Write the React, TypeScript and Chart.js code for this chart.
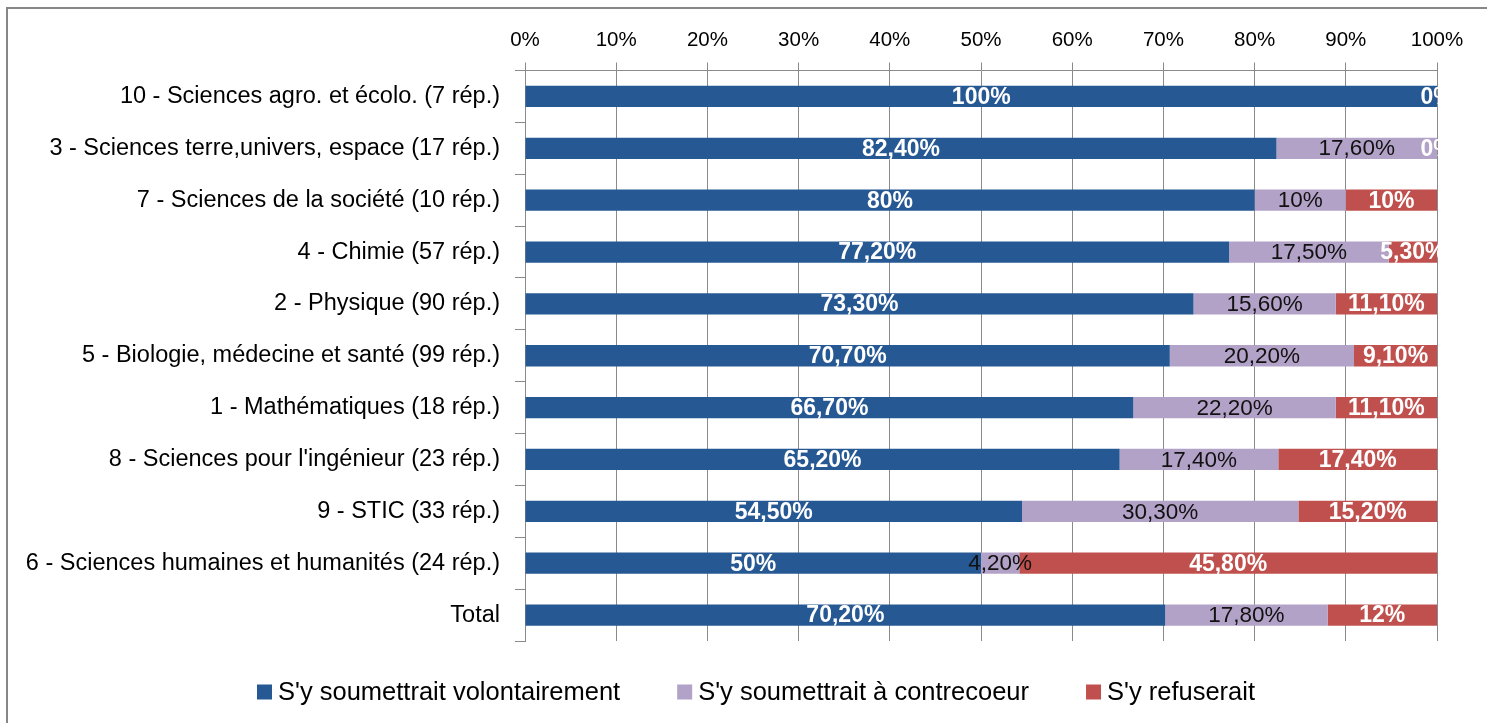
import React, { useEffect, useRef } from "react";
import { Chart, registerables } from "chart.js";

Chart.register(...registerables);

const categories = [
  "10 - Sciences agro. et écolo. (7 rép.)",
  "3 - Sciences terre,univers, espace (17 rép.)",
  "7 - Sciences de la société (10 rép.)",
  "4 - Chimie (57 rép.)",
  "2 - Physique (90 rép.)",
  "5 - Biologie, médecine et santé (99 rép.)",
  "1 - Mathématiques (18 rép.)",
  "8 - Sciences pour l'ingénieur (23 rép.)",
  "9 - STIC (33 rép.)",
  "6 - Sciences humaines et humanités (24 rép.)",
  "Total",
];

const volontairement = [100, 82.4, 80, 77.2, 73.3, 70.7, 66.7, 65.2, 54.5, 50, 70.2];
const contrecoeur = [0, 17.6, 10, 17.5, 15.6, 20.2, 22.2, 17.4, 30.3, 4.2, 17.8];
const refuserait = [0, 0, 10, 5.3, 11.1, 9.1, 11.1, 17.4, 15.2, 45.8, 12];

const seriesNames = [
  "S'y soumettrait volontairement",
  "S'y soumettrait à contrecoeur",
  "S'y refuserait",
];
const seriesColors = ["#265893", "#B3A2C7", "#C0504D"];

const FONT = "'Liberation Sans', Arial, sans-serif";
const GRID = "#8a8a8a";

function fmt(v: number): string {
  if (Number.isInteger(v)) return `${v}%`;
  return v.toFixed(2).replace(".", ",") + "%";
}

const labelStyles = [
  { color: "#ffffff", font: `bold 23px ${FONT}`, showZero: false },
  { color: "#111111", font: `22.5px ${FONT}`, showZero: false },
  { color: "#ffffff", font: `bold 23px ${FONT}`, showZero: true },
];

const backgroundPlugin = {
  id: "bgBorder",
  beforeDraw(chart: any) {
    const { ctx, width, height } = chart;
    ctx.save();
    ctx.fillStyle = "#ffffff";
    ctx.fillRect(0, 0, width, height);
    ctx.strokeStyle = "#878787";
    ctx.lineWidth = 2;
    ctx.beginPath();
    ctx.moveTo(7, height);
    ctx.lineTo(7, 8);
    ctx.lineTo(width, 8);
    ctx.stroke();
    ctx.restore();
  },
};

const dataLabelPlugin = {
  id: "dataLabels",
  afterDatasetsDraw(chart: any) {
    const { ctx, chartArea } = chart;
    ctx.save();
    ctx.beginPath();
    ctx.rect(chartArea.left, chartArea.top, chartArea.right - chartArea.left + 14, chartArea.bottom - chartArea.top);
    ctx.clip();
    ctx.textAlign = "center";
    ctx.textBaseline = "middle";
    chart.data.datasets.forEach((ds: any, i: number) => {
      const meta = chart.getDatasetMeta(i);
      const st = labelStyles[i];
      meta.data.forEach((bar: any, j: number) => {
        const v = ds.data[j] as number;
        if (v === 0 && !st.showZero) return;
        const p = bar.getProps(["x", "y", "base"], true);
        const cx = (p.x + p.base) / 2;
        ctx.font = st.font;
        ctx.fillStyle = st.color;
        ctx.fillText(fmt(v), cx, p.y + 1);
      });
    });
    ctx.restore();
  },
};

const legendPlugin = {
  id: "customLegend",
  afterDraw(chart: any) {
    const { ctx } = chart;
    ctx.save();
    ctx.font = `25.5px ${FONT}`;
    ctx.textBaseline = "middle";
    ctx.textAlign = "left";
    const cy = 692;
    const box = 15;
    const gapBoxText = 6;
    const gapItems = 57;
    let x = 257;
    seriesNames.forEach((name, i) => {
      ctx.fillStyle = seriesColors[i];
      ctx.fillRect(x, cy - box / 2, box, box);
      x += box + gapBoxText;
      ctx.fillStyle = "#000000";
      ctx.fillText(name, x, cy + 1);
      x += ctx.measureText(name).width + gapItems;
    });
    ctx.restore();
  },
};

export default function App() {
  const ref = useRef<HTMLCanvasElement | null>(null);

  useEffect(() => {
    if (!ref.current) return;
    const chart = new Chart(ref.current, {
      type: "bar",
      data: {
        labels: categories,
        datasets: [volontairement, contrecoeur, refuserait].map((d, i) => ({
          label: seriesNames[i],
          data: d,
          backgroundColor: seriesColors[i],
          borderWidth: 0,
          categoryPercentage: 1,
          barPercentage: 0.41,
        })),
      },
      options: {
        indexAxis: "y",
        animation: false,
        responsive: false,
        layout: { padding: { left: 0, right: 50, top: 20, bottom: 82 } },
        plugins: {
          legend: { display: false },
          tooltip: { enabled: false },
        },
        scales: {
          x: {
            position: "top",
            stacked: true,
            min: 0,
            max: 100,
            ticks: {
              stepSize: 10,
              callback: (v: any) => `${v}%`,
              color: "#000000",
              font: { family: FONT, size: 20.5 },
              padding: 10,
            },
            grid: { color: GRID, tickLength: 8, lineWidth: 1 },
            border: { display: true, color: GRID },
            afterFit: (s: any) => {
              s.height = 50.5;
            },
          },
          y: {
            stacked: true,
            ticks: {
              color: "#000000",
              font: { family: FONT, size: 23.5 },
              padding: 15,
              autoSkip: false,
            },
            grid: { drawOnChartArea: false, drawTicks: true, tickLength: 10, color: GRID, offset: true },
            border: { display: true, color: GRID },
            afterFit: (s: any) => {
              s.width = 525;
            },
          },
        },
      },
      plugins: [backgroundPlugin, dataLabelPlugin, legendPlugin],
    } as any);
    return () => chart.destroy();
  }, []);

  return (
    <div style={{ position: "fixed", left: 0, top: 0, width: 1487, height: 723 }}>
      <canvas ref={ref} width={1487} height={723} style={{ display: "block" }} />
    </div>
  );
}
